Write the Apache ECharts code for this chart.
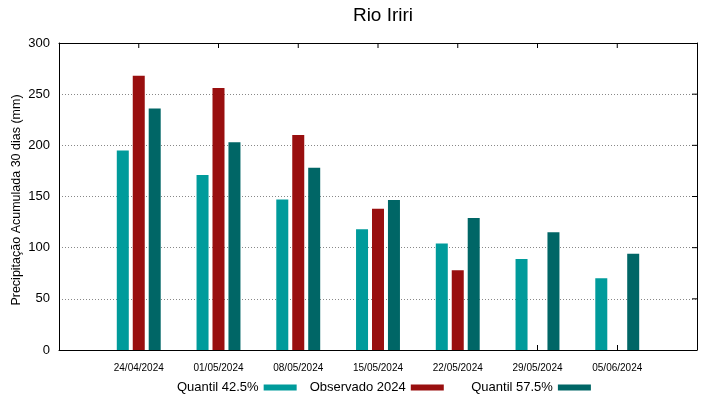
<!DOCTYPE html>
<html>
<head>
<meta charset="utf-8">
<script src="https://cdn.jsdelivr.net/npm/echarts@6/dist/echarts.min.js"></script>
<style>
  html, body { margin: 0; padding: 0; background: #fff; }
  #chart { width: 719px; height: 399px; }
</style>
</head>
<body>
<div id="chart"></div>
<script>
  // blank slot at each end so the dates sit one band in from the frame
  var categories = ['', '24/04/2024', '01/05/2024', '08/05/2024', '15/05/2024', '22/05/2024', '29/05/2024', '05/06/2024', ''];
  var quantil425 = [null, 195, 171, 147, 118, 104, 89, 70, null];
  var observado = [null, 268, 256, 210, 138, 78, null, null, null];
  var quantil575 = [null, 236, 203, 178, 146.5, 129, 115, 94, null];
  var yTicks = [50, 100, 150, 200, 250];
  var yMax = 300;
  var yLabel = 'Precipitação Acumulada 30 dias (mm)';

  var chart = echarts.init(document.getElementById('chart'));
  var font = 'Liberation Sans';

  // mirrored tick marks (top and right), placed through the axes' own scales
  var topTickData = [];
  categories.forEach(function (c, i) { if (c) topTickData.push([i, yMax]); });
  var rightTickData = yTicks.map(function (v) { return [categories.length - 1, v]; });

  function tickRenderer(dx, dy) {
    return function (params, api) {
      var p = api.coord([api.value(0), api.value(1)]);
      return {
        type: 'line',
        shape: { x1: p[0], y1: p[1], x2: p[0] + dx, y2: p[1] + dy },
        style: { stroke: '#000', lineWidth: 1 }
      };
    };
  }

  chart.setOption({
    animation: false,
    textStyle: { fontFamily: font },
    title: {
      text: 'Rio Iriri', left: 378, textAlign: 'center', top: 1,
      textStyle: { fontFamily: font, fontSize: 19, fontWeight: 'normal', color: '#000' }
    },
    grid: { left: 59, right: 22, top: 43, bottom: 49, containLabel: false, outerBoundsMode: 'none' },
    // y title as a rotated text, the axis name kept getting pushed to the edge
    graphic: [{
      type: 'text', x: 17, y: 200, rotation: Math.PI / 2,
      style: {
        text: yLabel, fill: '#000',
        font: '12.5px "Liberation Sans"', align: 'center', verticalAlign: 'middle'
      }
    }],
    legend: {
      bottom: 0, left: 172,
      align: 'right',
      icon: 'rect', itemWidth: 33, itemHeight: 6, itemGap: 13,
      textStyle: { fontFamily: font, fontSize: 13, color: '#000' },
      formatter: function (name) {
        return name === 'Quantil 57.5%' ? '    ' + name : name;
      },
      data: ['Quantil 42.5%', 'Observado 2024', 'Quantil 57.5%']
    },
    xAxis: [{
      type: 'category', data: categories, boundaryGap: false,
      axisLine: { onZero: false, lineStyle: { color: '#000', width: 1 } },
      axisTick: {
        show: true, inside: true, length: 5, lineStyle: { color: '#000' },
        interval: function (i) { return i > 0 && i < categories.length - 1; }
      },
      axisLabel: { fontSize: 10, color: '#000', margin: 13, interval: 0 }
    }, {
      // top frame line
      type: 'category', data: categories, boundaryGap: false, position: 'top',
      axisLine: { show: true, onZero: false, lineStyle: { color: '#000', width: 1 } },
      axisTick: { show: false },
      axisLabel: { show: false }
    }],
    yAxis: [{
      type: 'value', min: 0, max: yMax, interval: 50,
      axisLine: { show: true, onZero: false, lineStyle: { color: '#000' } },
      axisTick: { show: false },
      axisLabel: { fontSize: 13, color: '#000', margin: 9 },
      splitLine: { show: true, lineStyle: { color: '#888', type: [1, 2], width: 1 } }
    }, {
      // right frame line
      type: 'value', min: 0, max: yMax, interval: 50, position: 'right',
      axisLine: { show: true, onZero: false, lineStyle: { color: '#000' } },
      axisTick: { show: false },
      axisLabel: { show: false },
      splitLine: { show: false }
    }],
    series: [{
      name: 'Quantil 42.5%', type: 'bar', data: quantil425,
      barWidth: 12, barGap: '33%',
      itemStyle: { color: '#009b9b' }
    }, {
      name: 'Observado 2024', type: 'bar', data: observado,
      barWidth: 12, barGap: '33%',
      itemStyle: { color: '#990f0f' }
    }, {
      name: 'Quantil 57.5%', type: 'bar', data: quantil575,
      barWidth: 12, barGap: '33%',
      itemStyle: { color: '#006666' }
    }, {
      type: 'custom', silent: true, z: 5,
      encode: { x: 0, y: 1 },
      renderItem: tickRenderer(0, 5),
      data: topTickData
    }, {
      type: 'custom', silent: true, z: 5,
      encode: { x: 0, y: 1 },
      renderItem: tickRenderer(-5, 0),
      data: rightTickData
    }]
  });
</script>
</body>
</html>
